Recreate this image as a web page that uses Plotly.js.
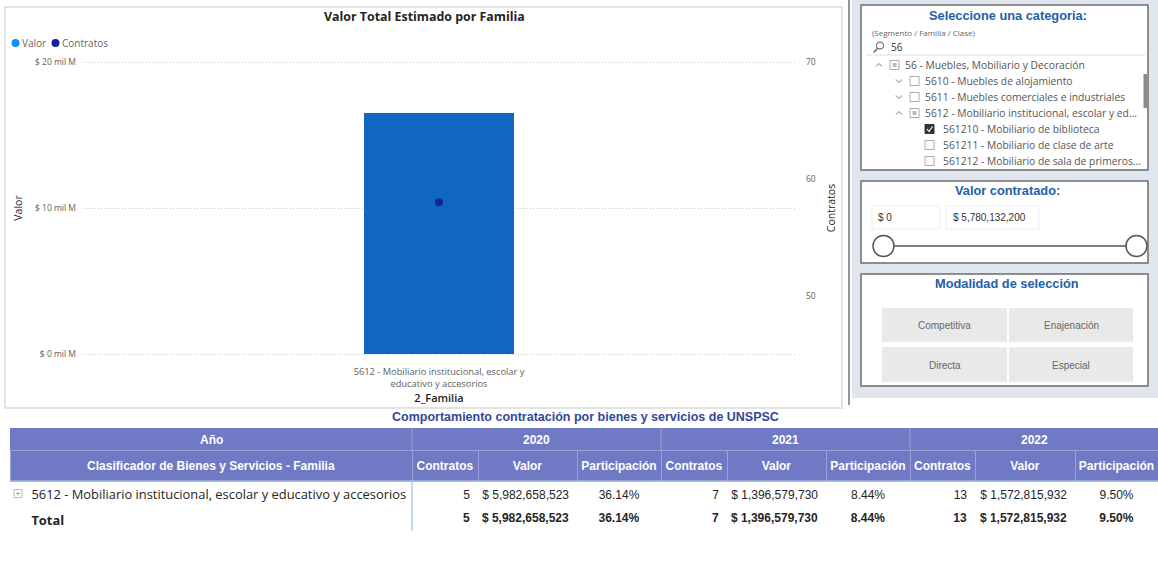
<!DOCTYPE html>
<html>
<head>
<meta charset="utf-8">
<script src="https://cdn.plot.ly/plotly-3.0.1.min.js"></script>
<style>
html,body{margin:0;padding:0;background:#fff;}
#chart{width:1158px;height:584px;}
</style>
</head>
<body>
<div id="chart"></div>
<script>
// ---------- DATA ----------
const familias = ['5612 - Mobiliario institucional, escolar y educativo y accesorios'];
const familiaTick = ['5612 - Mobiliario institucional, escolar y<br>educativo y accesorios'];
const valorTotal = [16.5e9];
const contratosTotal = [58];
const valorTickVals = [0, 10e9, 20e9];
const valorTickText = ['$ 0 mil M', '$ 10 mil M', '$ 20 mil M'];
const contratosTickVals = [50, 60, 70];

const years = ['2020', '2021', '2022'];
const tableRows = ['5612 - Mobiliario institucional, escolar y educativo y accesorios', 'Total'];
const contratos2020 = [5, 5];
const valor2020 = [5982658523, 5982658523];
const part2020 = [36.14, 36.14];
const contratos2021 = [7, 7];
const valor2021 = [1396579730, 1396579730];
const part2021 = [8.44, 8.44];
const contratos2022 = [13, 13];
const valor2022 = [1572815932, 1572815932];
const part2022 = [9.50, 9.50];
const subHeaders = ['Contratos', 'Valor', 'Participación'];

const treeItems = [
  {level: 0, chevron: 'up', box: 'partial', text: '56 - Muebles, Mobiliario y Decoración'},
  {level: 1, chevron: 'down', box: 'empty', text: '5610 - Muebles de alojamiento'},
  {level: 1, chevron: 'down', box: 'empty', text: '5611 - Muebles comerciales e industriales'},
  {level: 1, chevron: 'up', box: 'partial', text: '5612 - Mobiliario institucional, escolar y ed...'},
  {level: 2, chevron: null, box: 'checked', text: '561210 - Mobiliario de biblioteca'},
  {level: 2, chevron: null, box: 'empty', text: '561211 - Mobiliario de clase de arte'},
  {level: 2, chevron: null, box: 'empty', text: '561212 - Mobiliario de sala de primeros...'}
];
const rangoMin = '$ 0';
const rangoMax = '$ 5,780,132,200';
const modalidades = ['Competitiva', 'Enajenación', 'Directa', 'Especial'];

// ---------- HELPERS ----------
const W = 1158, H = 584;
const X = p => p / W;
const Y = p => 1 - p / H;
const shapes = [];
const anns = [];
function rect(x0, y0, x1, y1, fill, lc, lw, layer) {
  shapes.push({type: 'rect', xref: 'paper', yref: 'paper', x0: X(x0), x1: X(x1), y0: Y(y1), y1: Y(y0),
    fillcolor: fill || 'rgba(0,0,0,0)', line: {color: lc || 'rgba(0,0,0,0)', width: lw || 0}, layer: layer || 'above'});
}
function line(x0, y0, x1, y1, lc, lw, layer) {
  shapes.push({type: 'line', xref: 'paper', yref: 'paper', x0: X(x0), x1: X(x1), y0: Y(y0), y1: Y(y1),
    line: {color: lc, width: lw}, layer: layer || 'above'});
}
function path(pts, lc, lw) {
  const d = pts.map((p, i) => (i ? 'L' : 'M') + X(p[0]) + ',' + Y(p[1])).join(' ');
  shapes.push({type: 'path', xref: 'paper', yref: 'paper', path: d, line: {color: lc, width: lw}, layer: 'above'});
}
function circle(cx, cy, r, fill, lc, lw) {
  shapes.push({type: 'circle', xref: 'paper', yref: 'paper', x0: X(cx - r), x1: X(cx + r), y0: Y(cy + r), y1: Y(cy - r),
    fillcolor: fill, line: {color: lc, width: lw}, layer: 'above'});
}
function ann(text, x, y, size, color, opts) {
  anns.push(Object.assign({text: text, xref: 'paper', yref: 'paper', x: X(x), y: Y(y), showarrow: false,
    xanchor: 'left', yanchor: 'middle', font: {size: size, color: color, family: 'Open Sans, sans-serif'}}, opts || {}));
}
const NB = '\u00A0';
const keep = s => s.replace(/ /g, NB);
const money = v => keep('$ ' + v.toLocaleString('en-US'));
const pct = v => v.toFixed(2) + '%';
const BLUE_T = '#2260a9';
const ARIAL = 'Liberation Sans, Arial, sans-serif';
const OPEN = 'Open Sans, sans-serif';
const HEAD = '#6f79c4';
const HEADLINE = '#9aa1d8';

// ---------- PANELS ----------
rect(852, 0, 1158, 398, '#dfe6ee', null, 0, 'below');
line(849, 0, 849, 405, '#707070', 1.5);
rect(5, 7, 842, 408, null, '#e3e3e3', 2, 'below');

// ---- Box 1: category slicer
rect(861, 5, 1148, 170, '#ffffff', '#6e6e6e', 1.5);
ann('<b>Seleccione una categoria:</b>', 1008, 15, 12.8, BLUE_T, {xanchor: 'center', font: {size: 12.8, color: BLUE_T, family: ARIAL}});
ann('(Segmento / Familia / Clase)', 870, 32, 8, '#666', {font: {size: 8, color: '#666', family: OPEN}});
circle(880, 45.5, 3.6, 'rgba(0,0,0,0)', '#555', 1);
line(877.5, 48.5, 873.5, 52.5, '#555', 1.2);
ann('56', 889, 47, 10, '#333');
line(866, 55, 1145, 55, '#dddddd', 1);
treeItems.forEach((it, i) => {
  const y = 65 + i * 16;
  const chevX = [879, 899, 0][it.level];
  const boxX = [890, 910, 925][it.level];
  const txtX = [903, 923, 941][it.level];
  if (it.chevron === 'up') path([[chevX - 3, y + 1.5], [chevX, y - 1.5], [chevX + 3, y + 1.5]], '#777', 1);
  if (it.chevron === 'down') path([[chevX - 3, y - 1.5], [chevX, y + 1.5], [chevX + 3, y - 1.5]], '#777', 1);
  if (it.box === 'checked') {
    rect(boxX, y - 4.5, boxX + 9, y + 4.5, '#333333', '#333333', 1);
    path([[boxX + 2, y], [boxX + 4, y + 2.5], [boxX + 7.5, y - 2.5]], '#ffffff', 1.2);
  } else {
    rect(boxX, y - 4.5, boxX + 9, y + 4.5, '#ffffff', '#aaaaaa', 1);
    if (it.box === 'partial') rect(boxX + 2.5, y - 2, boxX + 6.5, y + 2, '#bbbbbb', null, 0);
  }
  ann(it.text, txtX, y, 10.3, '#555');
});
rect(1143.5, 74, 1147.5, 108, '#8a8a8a', null, 0);

// ---- Box 2: valor contratado slicer
rect(861, 181, 1148, 263, '#ffffff', '#6e6e6e', 1.5);
ann('<b>Valor contratado:</b>', 1007, 190, 12.8, BLUE_T, {xanchor: 'center', font: {size: 12.8, color: BLUE_T, family: ARIAL}});
rect(872, 206, 940, 229, '#ffffff', '#eeeeee', 1);
rect(946, 206, 1039, 229, '#ffffff', '#eeeeee', 1);
ann(rangoMin, 876, 217.5, 10, '#333', {font: {size: 10, color: '#333', family: ARIAL}});
ann(rangoMax, 951, 217.5, 10, '#333', {font: {size: 10, color: '#333', family: ARIAL}});
line(894, 246, 1126, 246, '#555', 1.5);
circle(883.5, 246, 10.5, '#ffffff', '#555', 1.5);
circle(1136.5, 246, 10.5, '#ffffff', '#555', 1.5);

// ---- Box 3: modalidad
rect(861, 274, 1148, 386, '#ffffff', '#6e6e6e', 1.5);
ann('<b>Modalidad de selección</b>', 1007, 283, 12.8, BLUE_T, {xanchor: 'center', font: {size: 12.8, color: BLUE_T, family: ARIAL}});
const btns = [[882, 308, 1007, 342], [1009, 308, 1133, 342], [882, 347, 1007, 382], [1009, 347, 1133, 382]];
btns.forEach((b, i) => {
  rect(b[0], b[1], b[2], b[3], '#e9e9e9', null, 0);
  ann(modalidades[i], (b[0] + b[2]) / 2, (b[1] + b[3]) / 2 + 0.5, 10, '#666', {xanchor: 'center', font: {size: 10, color: '#666', family: ARIAL}});
});

// ---- Chart title & legend
ann('<b>Valor Total Estimado por Familia</b>', 424, 17, 12.4, '#252423', {xanchor: 'center'});
circle(15.5, 43, 4, '#118DFF', '#118DFF', 0);
ann('Valor', 20, 43, 10, '#666');
circle(55.5, 43, 4, '#12239E', '#12239E', 0);
ann('Contratos', 60, 43, 10, '#666');

// ---- Table title, group header row & decorations
ann('<b>Comportamiento contratación por bienes y servicios de UNSPSC</b>', 585, 417, 12.5, '#33479a', {xanchor: 'center', font: {size: 12.5, color: '#33479a', family: ARIAL}});
const groupEdges = [10, 412, 661, 910, 1158];
rect(10, 428, 1158, 450.5, HEAD, null, 0);
['Año'].concat(years).forEach((t, i) => {
  ann('<b>' + t + '</b>', (groupEdges[i] + groupEdges[i + 1]) / 2, 439.5, 12, '#ffffff', {xanchor: 'center', font: {size: 12, color: '#ffffff', family: ARIAL}});
  if (i > 0) line(groupEdges[i], 428, groupEdges[i], 450, HEADLINE, 1);
});
line(10, 450.5, 1158, 450.5, HEADLINE, 1);
line(412, 481, 412, 531, '#9fc3ea', 1.2);
line(10, 481, 1158, 481, '#bcd3ef', 1);
rect(14, 489.5, 22, 497.5, '#ffffff', '#aaaaaa', 0.8);
line(16, 493.5, 20, 493.5, '#999', 0.8);
line(18, 491.5, 18, 495.5, '#999', 0.8);

// ---------- TRACES ----------
const bar = {type: 'bar', x: familias, y: valorTotal, name: 'Valor', width: 0.212,
  marker: {color: '#1067C0'}, hoverinfo: 'skip', xaxis: 'x', yaxis: 'y'};
const dots = {type: 'scatter', mode: 'markers', x: familias, y: contratosTotal, name: 'Contratos',
  marker: {color: '#12239E', size: 8}, hoverinfo: 'skip', xaxis: 'x', yaxis: 'y2'};

const nm = s => NB.repeat(4) + keep(s);
const colW = [402, 66, 99, 84, 66, 99, 84, 65, 100, 83];
const aligns = ['left', 'right', 'right', 'center', 'right', 'right', 'center', 'right', 'right', 'center'];
const fams = [OPEN].concat(Array(9).fill(ARIAL));
const sizes = [12.9].concat(Array(9).fill(12));
// row-wise columns: [col][row]
const allCols = [tableRows.map(nm),
  contratos2020.map(String), valor2020.map(money), part2020.map(pct),
  contratos2021.map(String), valor2021.map(money), part2021.map(pct),
  contratos2022.map(String), valor2022.map(money), part2022.map(pct)];
const dataCols = allCols.map(c => [c[0]]);
const totalCols = allCols.map(c => ['<b>' + c[1] + '</b>']);

const headCols = [['<b>Clasificador de Bienes y Servicios - Familia</b>']];
years.forEach(() => subHeaders.forEach(s => headCols.push(['<b>' + s + '</b>'])));
const tableMain = {type: 'table', domain: {x: [X(10), 1], y: [0, Y(450.5)]}, columnwidth: colW,
  header: {values: headCols, height: 31, fill: {color: HEAD}, line: {color: HEADLINE, width: 1},
    align: 'center', font: {family: ARIAL, size: 12, color: '#ffffff'}},
  cells: {values: dataCols, height: 24, fill: {color: '#ffffff'}, line: {color: '#ffffff', width: 1},
    align: aligns, font: {family: fams, size: sizes, color: '#252423'}}};
const tableTotal = {type: 'table', domain: {x: [X(10), 1], y: [0, Y(503)]}, columnwidth: colW,
  header: {values: totalCols, height: 24, fill: {color: '#ffffff'}, line: {color: '#ffffff', width: 1},
    align: aligns, font: {family: fams, size: sizes, color: '#252423'}},
  cells: {values: allCols.map(() => ['']), height: 24, fill: {color: '#ffffff'}, line: {color: '#ffffff', width: 1}}};

const gridDash = '1px,2px';
const layout = {
  width: W, height: H, margin: {l: 0, r: 0, t: 0, b: 0}, paper_bgcolor: '#ffffff', plot_bgcolor: 'rgba(0,0,0,0)',
  showlegend: false, bargap: 0,
  font: {family: OPEN, color: '#605e5c'},
  xaxis: {domain: [X(83), X(795)], type: 'category', range: [-0.5, 0.5], showgrid: false, zeroline: false,
    showline: false, ticks: '', tickvals: familias, ticktext: familiaTick, tickfont: {size: 9.3, color: '#605e5c'},
    ticklabelstandoff: 9,
    title: {text: '2_Familia', font: {size: 11, color: '#252423', weight: 600}, standoff: 1}},
  yaxis: {domain: [Y(356), Y(60)], range: [-0.137e9, 20.137e9], tickvals: valorTickVals, ticktext: valorTickText,
    showgrid: true, gridcolor: '#c8c8c8', griddash: gridDash, gridwidth: 1, zeroline: false, showline: false,
    tickfont: {size: 8.5, color: '#605e5c'}, ticklabelstandoff: 6,
    title: {text: 'Valor', font: {size: 10.5, color: '#252423'}, standoff: 10}},
  yaxis2: {overlaying: 'y', side: 'right', range: [44.829, 70.171], tickvals: contratosTickVals, showgrid: false,
    zeroline: false, showline: false, tickfont: {size: 8.5, color: '#605e5c'}, ticklabelstandoff: 10,
    title: {text: 'Contratos', font: {size: 10.5, color: '#252423'}, standoff: 12}},
  shapes: shapes, annotations: anns
};

Plotly.newPlot('chart', [bar, dots, tableMain, tableTotal], layout, {staticPlot: true, displayModeBar: false});
</script>
</body>
</html>
